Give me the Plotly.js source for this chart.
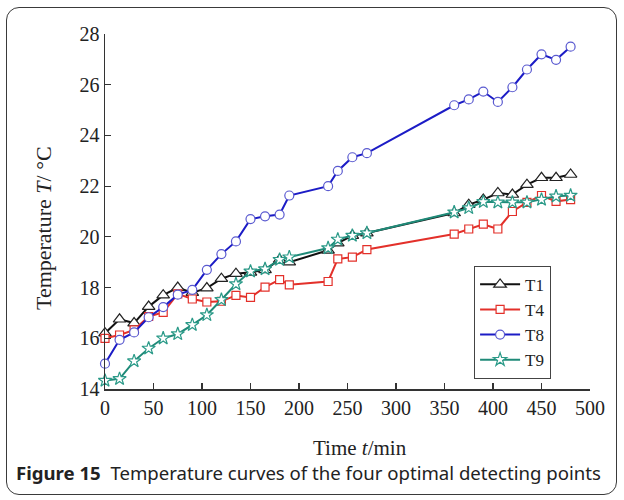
<!DOCTYPE html>
<html>
<head>
<meta charset="utf-8">
<script src="https://cdn.plot.ly/plotly-3.0.1.min.js"></script>
<style>
  html, body { margin: 0; padding: 0; background: #ffffff; }
  #wrap { position: relative; width: 624px; height: 500px; }
  #chart { position: absolute; left: 0; top: 0; width: 624px; height: 500px; }
  #frame { position: absolute; left: 6px; top: 7px; width: 609px; height: 486px;
           border: 1.5px solid #3a3a3a; border-radius: 13px; pointer-events: none; }
</style>
</head>
<body>
<div id="wrap">
  <div id="chart"></div>
  <div id="frame"></div>
</div>
<script>
// Time points (min)
const timeMin = [0, 15, 30, 45, 60, 75, 90, 105, 120, 135, 150, 165, 180, 190, 230, 240, 255, 270, 360, 375, 390, 405, 420, 435, 450, 465, 480];

// Temperatures (°C)
const T1 = [16.2, 16.75, 16.6, 17.25, 17.7, 18.0, 17.8, 17.98, 18.35, 18.55, 18.6, 18.7, 19.1, 19.0, 19.47, 19.75, 20.05, 20.15, 20.94, 21.27, 21.47, 21.73, 21.67, 22.06, 22.33, 22.33, 22.46];
const T4 = [16.0, 16.13, 16.33, 16.86, 17.02, 17.75, 17.55, 17.43, 17.46, 17.69, 17.61, 18.02, 18.31, 18.11, 18.24, 19.13, 19.2, 19.5, 20.11, 20.31, 20.5, 20.31, 21.0, 21.36, 21.63, 21.4, 21.47];
const T8 = [15.0, 15.94, 16.23, 16.83, 17.23, 17.72, 17.91, 18.7, 19.32, 19.82, 20.7, 20.81, 20.88, 21.63, 22.0, 22.6, 23.14, 23.3, 25.19, 25.42, 25.73, 25.32, 25.9, 26.6, 27.2, 26.98, 27.5];
const T9 = [14.33, 14.4, 15.1, 15.6, 16.0, 16.17, 16.53, 16.92, 17.52, 18.14, 18.64, 18.73, 19.1, 19.2, 19.56, 19.9, 20.05, 20.15, 20.97, 21.14, 21.38, 21.36, 21.36, 21.36, 21.47, 21.6, 21.63];

const seriesNames = ['T1', 'T4', 'T8', 'T9'];
const xTickVals = [0, 50, 100, 150, 200, 250, 300, 350, 400, 450, 500];
const yTickVals = [14, 16, 18, 20, 22, 24, 26, 28];
const xTitle = 'Time <i>t</i>/min';
const yTitle = 'Temperature <i>T</i>/ °C';
const caption = '<b>Figure 15</b>  Temperature curves of the four optimal detecting points';

const serif = 'Liberation Serif, Times New Roman, serif';

function mk(name, y, lineColor, markColor, symbol, size) {
  return {
    type: 'scatter', mode: 'lines+markers', name: name,
    x: timeMin, y: y,
    line: { color: lineColor, width: 2 },
    marker: { symbol: symbol, size: size, color: '#ffffff',
              line: { color: markColor, width: 1.2 } },
    cliponaxis: false
  };
}

const data = [
  mk(seriesNames[0], T1, '#111111', '#222222', 'triangle-up', 11),
  mk(seriesNames[1], T4, '#e3302a', '#e3302a', 'square', 8),
  mk(seriesNames[2], T8, '#1c1cc6', '#5a5ad0', 'circle', 9),
  mk(seriesNames[3], T9, '#1f8a78', '#2a9a88', 'star', 10)
];

const layout = {
  width: 624, height: 500,
  margin: { l: 105, r: 34, t: 34, b: 111 },
  paper_bgcolor: 'rgba(0,0,0,0)',
  plot_bgcolor: 'rgba(0,0,0,0)',
  showlegend: true,
  xaxis: {
    range: [0, 500], tickvals: xTickVals, ticktext: xTickVals.map(String),
    ticks: 'inside', ticklen: 6, tickwidth: 1.2, tickcolor: '#333',
    showline: true, linecolor: '#333', linewidth: 1.5,
    showgrid: false, zeroline: false,
    tickfont: { family: serif, size: 20, color: '#222' }
  },
  yaxis: {
    range: [14, 28], tickvals: yTickVals, ticktext: yTickVals.map(String),
    ticks: 'inside', ticklen: 6, tickwidth: 1.2, tickcolor: '#333',
    showline: true, linecolor: '#333', linewidth: 1.5,
    showgrid: false, zeroline: false,
    tickfont: { family: serif, size: 20, color: '#222' }
  },
  legend: {
    x: 0.761, y: 0.347, xanchor: 'left', yanchor: 'top',
    bgcolor: '#ffffff', bordercolor: '#444', borderwidth: 1,
    font: { family: serif, size: 17, color: '#222' },
    itemwidth: 40, tracegroupgap: 0
  },
  annotations: [
    {
      xref: 'paper', yref: 'paper', x: 0.5258, y: -0.1662,
      xanchor: 'center', yanchor: 'middle', showarrow: false,
      text: xTitle, font: { family: serif, size: 21, color: '#222' }
    },
    {
      xref: 'paper', yref: 'paper', x: -0.1278, y: 0.4535, textangle: -90,
      xanchor: 'center', yanchor: 'middle', showarrow: false,
      text: yTitle, font: { family: serif, size: 22, color: '#222' }
    },
    {
      xref: 'paper', yref: 'paper', x: -0.188, y: -0.234,
      xanchor: 'left', yanchor: 'middle', showarrow: false,
      text: caption,
      font: { family: 'Noto Sans, Open Sans, sans-serif', size: 18.6, color: '#222' }
    }
  ]
};

Plotly.newPlot('chart', data, layout, { displayModeBar: false, staticPlot: true });
</script>
</body>
</html>
